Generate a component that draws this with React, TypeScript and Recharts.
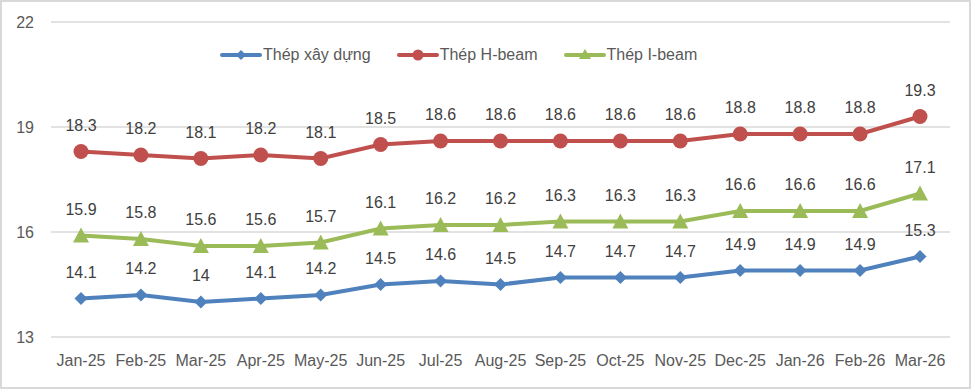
import React from "react";
import { LineChart, Line, XAxis, YAxis, CartesianGrid, Legend, LabelList } from "recharts";

const months = ["Jan-25", "Feb-25", "Mar-25", "Apr-25", "May-25", "Jun-25", "Jul-25", "Aug-25", "Sep-25", "Oct-25", "Nov-25", "Dec-25", "Jan-26", "Feb-26", "Mar-26"];
const thepXayDung = [14.1, 14.2, 14.0, 14.1, 14.2, 14.5, 14.6, 14.5, 14.7, 14.7, 14.7, 14.9, 14.9, 14.9, 15.3];
const thepHBeam = [18.3, 18.2, 18.1, 18.2, 18.1, 18.5, 18.6, 18.6, 18.6, 18.6, 18.6, 18.8, 18.8, 18.8, 19.3];
const thepIBeam = [15.9, 15.8, 15.6, 15.6, 15.7, 16.1, 16.2, 16.2, 16.3, 16.3, 16.3, 16.6, 16.6, 16.6, 17.1];
const yTicks = [13, 16, 19, 22];

const seriesNames = ["Thép xây dựng", "Thép H-beam", "Thép I-beam"];
const BLUE = "#4F81BD";
const RED = "#C0504D";
const GREEN = "#9BBB59";
const FONT = "'Liberation Sans', Arial, sans-serif";

const data = months.map((m, i) => ({
  month: m,
  xd: thepXayDung[i],
  hb: thepHBeam[i],
  ib: thepIBeam[i],
}));

const Diamond = (props: any) => {
  const { cx, cy } = props;
  if (cx == null || cy == null) return null;
  const r = 6.5;
  return <path d={`M${cx},${cy - r}L${cx + r},${cy}L${cx},${cy + r}L${cx - r},${cy}Z`} fill={BLUE} />;
};
const Circle = (props: any) => {
  const { cx, cy } = props;
  if (cx == null || cy == null) return null;
  return <circle cx={cx} cy={cy} r={7.5} fill={RED} />;
};
const Triangle = (props: any) => {
  const { cx, cy } = props;
  if (cx == null || cy == null) return null;
  return <path d={`M${cx},${cy - 8}L${cx + 8},${cy + 7}L${cx - 8},${cy + 7}Z`} fill={GREEN} />;
};

const ValueLabel = (props: any) => {
  const { x, y, value } = props;
  return (
    <text x={x} y={y - 21} textAnchor="middle" fill="#404040" fontSize={16} fontFamily={FONT}>
      {String(value)}
    </text>
  );
};

const LegendMarker = ({ kind, color }: { kind: string; color: string }) => (
  <svg width={42} height={16} style={{ display: "block" }}>
    <line x1={2} y1={8} x2={40} y2={8} stroke={color} strokeWidth={4} strokeLinecap="round" />
    {kind === "diamond" && <path d="M21,3L26,8L21,13L16,8Z" fill={color} />}
    {kind === "circle" && <circle cx={21} cy={8} r={5.5} fill={color} />}
    {kind === "triangle" && <path d="M21,2L27,12L15,12Z" fill={color} />}
  </svg>
);

const CustomLegend = () => {
  const items = [
    { name: seriesNames[0], color: BLUE, kind: "diamond" },
    { name: seriesNames[1], color: RED, kind: "circle" },
    { name: seriesNames[2], color: GREEN, kind: "triangle" },
  ];
  return (
    <div style={{ display: "flex", alignItems: "center", paddingLeft: 220, fontFamily: FONT, fontSize: 16, color: "#595959" }}>
      {items.map((it, i) => (
        <div key={it.name} style={{ display: "flex", alignItems: "center", marginRight: i < 2 ? 26 : 0 }}>
          <LegendMarker kind={it.kind} color={it.color} />
          <span style={{ marginLeft: 1, lineHeight: "20px" }}>{it.name}</span>
        </div>
      ))}
    </div>
  );
};

export default function App() {
  return (
    <div style={{ position: "absolute", left: 0, top: 0, width: 973, height: 389, background: "#fff" }}>
      <LineChart width={973} height={389} data={data} margin={{ top: 22, right: 23, bottom: 0, left: 0 }}>
        <CartesianGrid vertical={false} stroke="#d9d9d9" strokeWidth={1.5} />
        <XAxis
          dataKey="month"
          axisLine={false}
          tickLine={false}
          tickSize={0}
          tickMargin={18}
          height={52}
          interval={0}
          padding={{ left: 30, right: 30 }}
          tick={{ fill: "#595959", fontSize: 16, fontFamily: FONT }}
        />
        <YAxis
          domain={[13, 22]}
          ticks={yTicks}
          width={51}
          axisLine={false}
          tickLine={false}
          tickSize={0}
          tickMargin={17}
          tick={{ fill: "#595959", fontSize: 16, fontFamily: FONT }}
        />
        <Legend
          layout="horizontal"
          verticalAlign="middle"
          content={<CustomLegend />}
          wrapperStyle={{ top: 45, left: 0, width: 973 }}
        />
        <Line dataKey="xd" name={seriesNames[0]} stroke={BLUE} strokeWidth={4} dot={<Diamond />} activeDot={false} isAnimationActive={false}>
          <LabelList dataKey="xd" content={<ValueLabel />} />
        </Line>
        <Line dataKey="hb" name={seriesNames[1]} stroke={RED} strokeWidth={4} dot={<Circle />} activeDot={false} isAnimationActive={false}>
          <LabelList dataKey="hb" content={<ValueLabel />} />
        </Line>
        <Line dataKey="ib" name={seriesNames[2]} stroke={GREEN} strokeWidth={4} dot={<Triangle />} activeDot={false} isAnimationActive={false}>
          <LabelList dataKey="ib" content={<ValueLabel />} />
        </Line>
      </LineChart>
      <div
        style={{
          position: "absolute",
          left: 0,
          top: 0,
          width: 971,
          height: 389,
          boxSizing: "border-box",
          border: "2px solid #d9d9d9",
          pointerEvents: "none",
        }}
      />
    </div>
  );
}
